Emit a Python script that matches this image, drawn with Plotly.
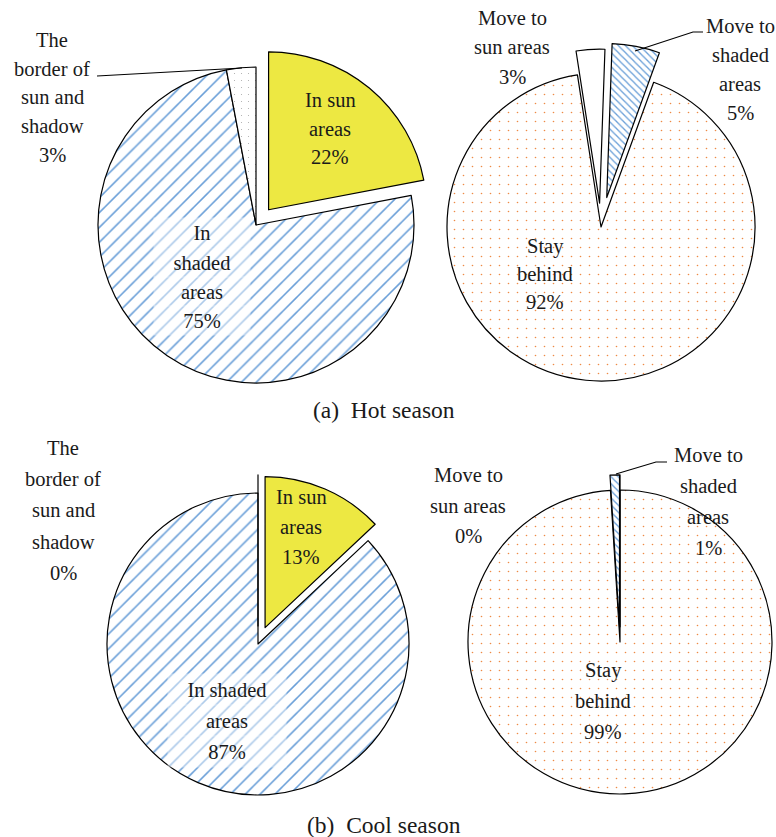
import math
import plotly.graph_objects as go

W, H = 776, 837

# ---------------- data ----------------
hot_location_labels = ["In sun areas", "In shaded areas", "The border of sun and shadow"]
hot_location_values = [22, 75, 3]
hot_movement_labels = ["Move to shaded areas", "Stay behind", "Move to sun areas"]
hot_movement_values = [5, 92, 3]
cool_location_labels = ["In sun areas", "In shaded areas", "The border of sun and shadow"]
cool_location_values = [13, 87, 0]
cool_movement_labels = ["Move to sun areas", "Stay behind", "Move to shaded areas"]
cool_movement_values = [0, 99, 1]
panel_captions = ["(a)\u00a0\u00a0Hot season", "(b)\u00a0\u00a0Cool season"]

# line breaking of each category label (text layout only)
hot_location_lines = [["In sun", "areas"], ["In", "shaded", "areas"],
                      ["The", "border of", "sun and", "shadow"]]
hot_movement_lines = [["Move to", "shaded", "areas"], ["Stay", "behind"], ["Move to", "sun areas"]]
cool_location_lines = [["In sun", "areas"], ["In shaded", "areas"],
                       ["The", "border of", "sun and", "shadow"]]
cool_movement_lines = [["Move to", "sun areas"], ["Stay", "behind"], ["Move to", "shaded", "areas"]]

# ---------------- styles ----------------
BLUE = "#6A9FD8"
STYLE = {
    "In sun areas": dict(color="#EDE842", shape="", fg="#EDE842", size=8, sol=0.2),
    "In shaded areas": dict(color="white", shape="/", fg=BLUE, size=10.5, sol=0.15),
    "The border of sun and shadow": dict(color="white", shape=".", fg="#A8A8A8", size=7, sol=0.02),
    "Stay behind": dict(color="white", shape=".", fg="#EE8A45", size=9, sol=0.026),
    "Move to shaded areas": dict(color="white", shape="\\", fg=BLUE, size=5, sol=0.26),
    "Move to sun areas": dict(color="white", shape="", fg="white", size=8, sol=0.2),
}
FONT = "Liberation Serif, Times New Roman, serif"
FS = 20.5
CAP_FS = 23.5
TXT = "#1a1a1a"
LW = 1.2

fig = go.Figure()


def add_pie(labels, values, cx, cy, r, pulls, rotation=0):
    total = sum(values)
    mids, a = [], rotation
    for v in values:
        span = 360.0 * v / total
        mids.append(a + span / 2)
        a += span
    layers = [None] + [i for i, p in enumerate(pulls) if p > 0]
    for layer in layers:
        if layer is None:
            vis = [p == 0 for p in pulls]
            dx = dy = 0.0
        else:
            vis = [j == layer for j in range(len(values))]
            d = pulls[layer] * r
            ang = math.radians(mids[layer])
            dx, dy = d * math.sin(ang), -d * math.cos(ang)
        st = [STYLE[l] for l in labels]
        fig.add_trace(go.Pie(
            labels=labels, values=values, sort=False, direction="clockwise",
            rotation=rotation, textinfo="none", showlegend=False,
            hoverinfo="label+percent",
            domain=dict(x=[(cx + dx - r) / W, (cx + dx + r) / W],
                        y=[1 - (cy + dy + r) / H, 1 - (cy + dy - r) / H]),
            marker=dict(
                colors=[s["color"] if v else "rgba(0,0,0,0)" for s, v in zip(st, vis)],
                line=dict(color="black", width=[LW if v else 0 for v in vis]),
                pattern=dict(
                    shape=[s["shape"] if v else "" for s, v in zip(st, vis)],
                    fgcolor=[s["fg"] for s in st],
                    bgcolor=[s["color"] if v else "rgba(0,0,0,0)" for s, v in zip(st, vis)],
                    size=[s["size"] for s in st],
                    solidity=[s["sol"] for s in st],
                ),
            ),
        ))


def add_label(lines, cx, y0, spacing, bg=None, width=None):
    for k, line in enumerate(lines):
        kw = {}
        if bg:
            kw = dict(bgcolor=bg, width=width, height=spacing, borderpad=0)
        fig.add_annotation(x=cx / W, y=1 - (y0 + k * spacing) / H, xref="paper", yref="paper",
                           text=line, showarrow=False, xanchor="center", yanchor="middle",
                           font=dict(family=FONT, size=FS, color=TXT), **kw)


def leader(points):
    path = "M " + " L ".join(f"{x / W:.5f},{1 - y / H:.5f}" for x, y in points)
    fig.add_shape(type="path", path=path, xref="paper", yref="paper",
                  line=dict(color="black", width=1.1))


def pct(v):
    return f"{v}%"


# ---------- (a) hot season ----------
add_pie(hot_location_labels, hot_location_values, 256, 225, 158, [0.125, 0, 0])
add_label(hot_location_lines[0] + [pct(hot_location_values[0])], 330, 100, 28.5)
add_label(hot_location_lines[1] + [pct(hot_location_values[1])], 202, 233, 29,
          bg="rgba(255,255,255,0.45)", width=96)
add_label(hot_location_lines[2] + [pct(hot_location_values[2])], 52, 40, 28.7)
leader([(97, 76), (242, 68)])

add_pie(hot_movement_labels, hot_movement_values, 601, 227, 154, [0.195, 0, 0.155], rotation=2)
add_label(hot_movement_lines[0] + [pct(hot_movement_values[0])], 740, 26, 29)
add_label(hot_movement_lines[1] + [pct(hot_movement_values[1])], 545, 247, 27.5)
add_label(hot_movement_lines[2] + [pct(hot_movement_values[2])], 512, 18, 29.5)
leader([(635, 51), (693, 32), (703, 32)])

# ---------- (b) cool season ----------
add_pie(cool_location_labels, cool_location_values, 258, 644, 151, [0.118, 0, 0.12])
add_label(cool_location_lines[0] + [pct(cool_location_values[0])], 301, 497, 30)
add_label(cool_location_lines[1] + [pct(cool_location_values[1])], 227, 689, 31,
          bg="rgba(255,255,255,0.45)", width=118)
add_label(cool_location_lines[2] + [pct(cool_location_values[2])], 63, 448, 31.2)

add_pie(cool_movement_labels, cool_movement_values, 620, 642, 152, [0.1, 0, 0.1])
add_label(cool_movement_lines[0] + [pct(cool_movement_values[0])], 468, 475, 30.5)
add_label(cool_movement_lines[1] + [pct(cool_movement_values[1])], 603, 670, 31)
add_label(cool_movement_lines[2] + [pct(cool_movement_values[2])], 708, 455, 31)
leader([(616, 474), (656, 462), (667, 462)])

# captions
for cap, yc in zip(panel_captions, [410, 825]):
    fig.add_annotation(x=384 / W, y=1 - yc / H, xref="paper", yref="paper", text=cap,
                       showarrow=False, xanchor="center", yanchor="middle",
                       font=dict(family=FONT, size=CAP_FS, color=TXT))

fig.update_layout(width=W, height=H, margin=dict(l=0, r=0, t=0, b=0),
                  paper_bgcolor="white", plot_bgcolor="white", showlegend=False)
fig.write_html("out.html")
